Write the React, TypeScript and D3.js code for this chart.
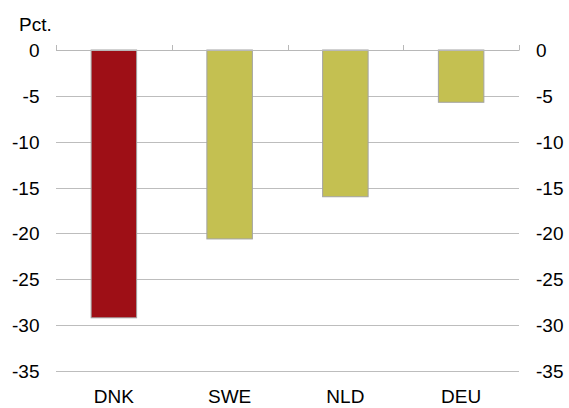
import { useEffect, useRef } from 'react';
import * as d3 from 'd3';

const countries = ['DNK', 'SWE', 'NLD', 'DEU'];
const changes = [-29.2, -20.6, -16.0, -5.7];
const barColors = ['#9e0f16', '#c4c051', '#c4c051', '#c4c051'];
const yTicks = [0, -5, -10, -15, -20, -25, -30, -35];
const unitLabel = 'Pct.';

export default function App() {
  const svgRef = useRef<SVGSVGElement>(null);

  useEffect(() => {
    if (!svgRef.current) return;
    const width = 569;
    const height = 408;
    const left = 56;
    const right = 519;
    const top = 50;
    const bottom = 371;
    const font = 'Liberation Sans, Arial, Helvetica, sans-serif';

    const svg = d3.select(svgRef.current);
    svg.selectAll('*').remove();
    svg.attr('width', width).attr('height', height);

    const x = d3.scaleBand<string>()
      .domain(countries)
      .range([left, right])
      .paddingInner(0.607)
      .paddingOuter(0.3035);

    const y = d3.scaleLinear().domain([0, -35]).range([top, bottom]);

    // gridlines
    svg.append('g')
      .selectAll('line')
      .data(yTicks.filter(t => t !== 0))
      .enter()
      .append('line')
      .attr('x1', left)
      .attr('x2', right)
      .attr('y1', d => Math.round(y(d)) + 0.5)
      .attr('y2', d => Math.round(y(d)) + 0.5)
      .attr('stroke', '#bdbdbd')
      .attr('stroke-width', 1.2);

    // bars
    svg.append('g')
      .selectAll('rect')
      .data(countries)
      .enter()
      .append('rect')
      .attr('x', d => x(d) || 0)
      .attr('y', y(0))
      .attr('width', x.bandwidth())
      .attr('height', (d, i) => y(changes[i]) - y(0))
      .attr('fill', (d, i) => barColors[i])
      .attr('stroke', '#a3a3a3')
      .attr('stroke-width', 1);

    // zero axis with category ticks pointing up
    const step = x.step();
    const bounds = d3.range(countries.length + 1).map(i => left + i * step);
    const axis = svg.append('g');
    axis.append('line')
      .attr('x1', left)
      .attr('x2', right)
      .attr('y1', Math.round(y(0)) + 0.5)
      .attr('y2', Math.round(y(0)) + 0.5)
      .attr('stroke', '#b8b8b8');
    axis.selectAll('line.tick')
      .data(bounds)
      .enter()
      .append('line')
      .attr('class', 'tick')
      .attr('x1', d => Math.round(d) + 0.5)
      .attr('x2', d => Math.round(d) + 0.5)
      .attr('y1', Math.round(y(0)) + 0.5)
      .attr('y2', Math.round(y(0)) - 5)
      .attr('stroke', '#b8b8b8');

    // y labels left and right
    const labels = svg.append('g')
      .style('font-family', font)
      .style('font-size', '19px')
      .attr('fill', '#000');
    labels.selectAll('text.left')
      .data(yTicks)
      .enter()
      .append('text')
      .attr('class', 'left')
      .attr('x', 39.5)
      .attr('y', d => y(d) + 7)
      .attr('text-anchor', 'end')
      .text(d => String(d));
    labels.selectAll('text.right')
      .data(yTicks)
      .enter()
      .append('text')
      .attr('class', 'right')
      .attr('x', 536)
      .attr('y', d => y(d) + 7)
      .attr('text-anchor', 'start')
      .text(d => String(d));

    // category labels
    labels.selectAll('text.cat')
      .data(countries)
      .enter()
      .append('text')
      .attr('class', 'cat')
      .attr('x', d => (x(d) || 0) + x.bandwidth() / 2)
      .attr('y', 403)
      .attr('text-anchor', 'middle')
      .text(d => d);

    labels.append('text')
      .attr('x', 19)
      .attr('y', 30.5)
      .text(unitLabel);
  }, []);

  return (
    <div style={{ position: 'fixed', left: 0, top: 0, width: 569, height: 408, background: '#fff' }}>
      <svg ref={svgRef} style={{ display: 'block' }}></svg>
    </div>
  );
}
